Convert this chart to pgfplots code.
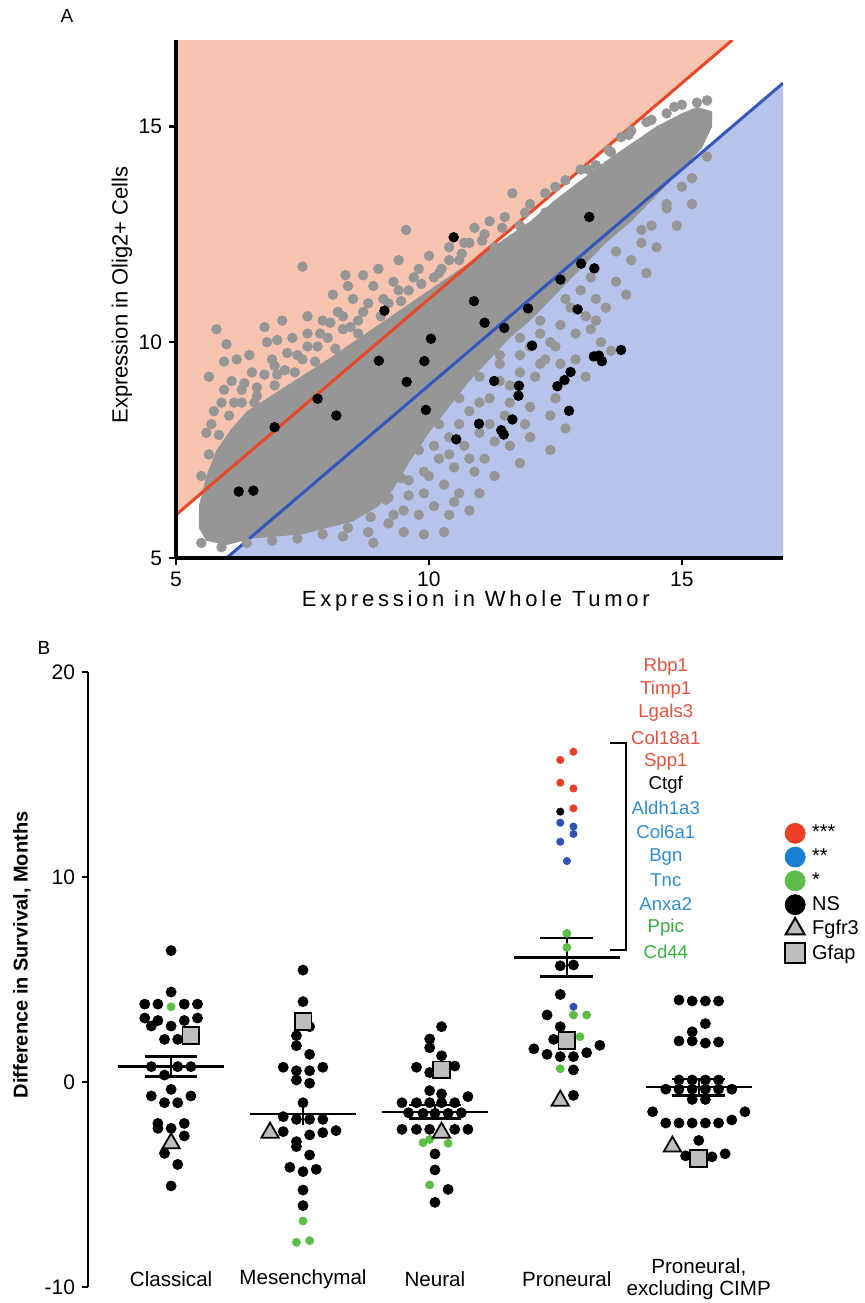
\documentclass[border=0pt]{standalone}
\usepackage{fontspec}
\setmainfont{Liberation Sans}
\newfontfamily\spaced[LetterSpace=17]{Liberation Sans}
\usepackage{pgfplots}
\pgfplotsset{compat=1.18}

\definecolor{hatchred}{RGB}{247,196,176}
\definecolor{hatchblue}{RGB}{184,195,235}
\definecolor{cloud}{RGB}{150,150,150}
\definecolor{linered}{RGB}{232,72,40}
\definecolor{lineblue}{RGB}{50,88,190}
\definecolor{dotred}{RGB}{238,62,38}
\definecolor{dotblue}{RGB}{48,82,182}
\definecolor{dotgreen}{RGB}{92,190,72}
\definecolor{legblue}{RGB}{24,128,212}
\definecolor{txtred}{RGB}{228,82,62}
\definecolor{txtblue}{RGB}{44,142,216}
\definecolor{txtgreen}{RGB}{52,178,60}
\definecolor{markgray}{RGB}{190,190,190}

\begin{document}
\begin{tikzpicture}[x=1pt,y=1pt]
\path[use as bounding box] (0,0) rectangle (432.5,-651.5);
\node[font=\fontsize{9.5}{11}\selectfont] at (33.5,-8) {A};
\node[font=\fontsize{9.5}{11}\selectfont] at (22,-324) {B};

% ---------- panel A ----------
\begin{axis}[
  at={(88pt,-279pt)}, anchor=south west, scale only axis,
  width=303.5pt, height=259pt,
  xmin=5, xmax=17, ymin=5, ymax=17,
  axis lines=left, axis line style={-, line width=1.6pt},
  axis on top,
  xtick={5,10,15}, ytick={5,10,15},
  tick align=outside, major tick length=3.5pt,
  tick style={line width=1.3pt, black},
  ticklabel style={font=\fontsize{10.5}{12}\selectfont},
  /pgf/number format/assume math mode=true,
  xlabel={\spaced Expression in Whole Tumor},
  ylabel={Expression in Olig2+ Cells},
  label style={font=\fontsize{11}{13}\selectfont},
  xlabel style={at={(axis description cs:0.494,-0.082)}, anchor=center},
  ylabel style={at={(axis description cs:-0.089,0.508)}, anchor=center},
]
% shaded regions
\addplot[fill=hatchred, draw=none] coordinates {(5,6) (16,17) (5,17)} -- cycle;
\addplot[fill=hatchblue, draw=none] coordinates {(6,5) (17,16) (17,5)} -- cycle;
% dense core of the cloud
\addplot[fill=cloud, draw=none] coordinates {
  (5.45,6.2) (5.45,5.7) (5.6,5.4) (6.0,5.3) (6.5,5.45) (7.0,5.5) (7.5,5.55)
  (8.0,5.7) (8.5,5.85) (9.0,6.2) (9.3,6.6) (9.6,7.2) (10.0,7.9) (10.4,8.5)
  (10.8,9.1) (11.2,9.6) (11.6,10.1) (12.0,10.5) (12.5,11.1) (13.0,11.7)
  (13.5,12.3) (14.0,12.8) (14.5,13.4) (15.0,14.0) (15.4,14.5) (15.6,15.0)
  (15.6,15.35) (15.3,15.45) (15.0,15.3) (14.5,15.0) (14.0,14.6) (13.5,14.2)
  (13.0,13.75) (12.5,13.3) (12.0,12.8) (11.5,12.4) (11.0,12.0) (10.5,11.6)
  (10.0,11.2) (9.5,10.8) (9.0,10.4) (8.5,10.0) (8.0,9.6) (7.6,9.3) (7.2,9.0)
  (6.8,8.7) (6.4,8.4) (6.1,8.0) (5.8,7.5) (5.6,6.9)
} -- cycle;
% scattered genes around the core
\addplot[only marks, mark=*, mark size=2.4pt, color=cloud] coordinates {
  (5.8,10.3) (5.95,9.55) (6.75,10.35) (7.5,11.75) (8.35,11.55) (8.7,11.55)
  (9.55,12.6) (10.9,12.65) (11.65,13.45) (13.8,14.75)
  (5.7,8.1) (5.9,8.6) (6.1,9.1) (6.3,8.9) (6.5,9.3) (6.6,8.95) (6.9,9.6)
  (7.0,9.25) (7.2,9.75) (7.3,10.1) (7.5,9.6) (7.6,10.2) (7.8,9.9) (7.9,10.5)
  (8.0,10.1) (8.2,10.7) (8.3,10.3) (8.5,11.0) (8.6,10.5) (8.8,10.9) (8.9,11.3)
  (9.1,11.0) (9.3,11.4) (9.4,11.9) (9.6,11.2) (9.8,11.7) (10.0,12.0) (10.2,11.6)
  (10.4,12.2) (10.6,11.9) (10.8,12.3) (11.1,12.5) (11.3,12.2) (11.5,12.9)
  (11.8,12.7) (12.0,13.2) (12.3,13.0) (12.5,13.6) (12.8,13.4) (13.0,14.0)
  (13.3,14.1) (13.6,14.4) (14.0,14.9) (14.3,15.1) (14.7,15.3) (15.0,15.5)
  (15.3,15.55) (6.2,9.6) (6.8,10.0) (7.1,10.5) (8.1,11.1) (9.0,11.7)
  (5.5,6.9) (5.65,7.4) (5.85,7.85) (6.05,8.3) (6.3,8.6) (6.6,8.75) (6.95,9.0)
  (7.35,9.3) (7.75,9.55) (8.15,9.85) (8.6,10.2) (9.05,10.6) (9.45,10.95)
  (9.85,11.35) (10.25,11.7) (10.65,12.05) (11.05,12.35) (11.45,12.65)
  (11.9,13.0) (12.3,13.45) (12.7,13.75) (13.15,14.0) (13.55,14.45) (13.95,14.8)
  (14.4,15.15) (14.85,15.45) (15.5,15.6)
  (5.6,7.9) (5.75,8.4) (5.95,8.9) (6.15,8.6) (6.35,9.05) (6.55,8.6) (6.75,9.25)
  (6.95,9.45) (7.15,9.35) (7.4,9.7) (7.6,9.9) (7.85,10.2) (8.05,10.45)
  (8.3,10.6) (8.45,10.35) (8.7,10.7) (9.2,10.9) (9.4,11.2) (9.7,11.5)
  (10.1,11.5) (10.4,11.9) (10.7,12.3) (11.2,12.8) (6.45,9.7) (7.0,10.05)
  (7.6,10.6) (8.4,11.3) (5.65,9.2) (6.0,9.95)
  (5.5,5.35) (5.9,5.25) (6.4,5.35) (6.9,5.4) (7.4,5.45) (7.9,5.55) (8.4,5.7)
  (8.85,5.95) (9.15,6.35) (9.45,6.85) (9.8,7.5) (10.2,8.1) (10.6,8.7)
  (11.0,9.2) (11.4,9.7) (11.8,10.1) (12.2,10.5) (12.7,11.0) (13.2,11.5)
  (13.7,12.1) (14.2,12.6) (14.7,13.2) (15.2,13.8) (15.5,14.3)
  (8.3,5.5) (8.8,5.6) (9.2,5.8) (9.5,6.1) (9.8,6.0) (10.1,6.2) (10.4,6.0)
  (9.9,6.5) (10.3,6.7) (10.6,6.5) (10.5,7.1) (10.9,7.0) (10.2,7.3) (10.7,7.6)
  (11.1,7.3) (11.0,7.9) (11.3,7.7) (11.5,8.3) (11.2,8.7) (11.6,8.6) (11.8,9.3)
  (12.1,9.2) (12.0,8.5) (12.3,9.6) (12.5,9.9) (12.2,10.2) (12.6,10.4)
  (12.9,10.2) (13.1,10.6) (13.3,11.0) (13.5,10.8) (13.7,11.4) (14.0,11.9)
  (14.2,12.3) (14.4,12.7) (14.7,13.1) (15.0,13.6) (13.4,10.0) (12.4,8.3)
  (11.6,7.6) (12.7,8.0) (13.1,9.2) (13.6,9.8) (10.8,8.4) (11.4,9.5) (9.6,6.8)
  (9.2,6.4) (12.0,7.8) (10.3,5.6) (8.9,5.35) (11.0,6.5) (12.4,7.5)
  (9.3,6.0) (9.6,6.45) (9.9,7.0) (10.1,7.6) (10.4,7.8) (10.4,7.4) (10.6,8.1)
  (10.8,7.3) (11.0,8.6) (11.2,8.1) (11.4,9.1) (11.6,9.0) (11.8,9.7) (12.0,9.9)
  (12.2,9.5) (12.4,10.0) (12.6,9.5) (12.8,10.8) (13.0,11.2) (13.2,10.3)
  (9.5,5.6) (9.9,5.55) (10.0,6.9) (10.5,6.3) (10.8,6.1) (11.3,6.9) (11.8,7.2)
  (11.9,8.1) (12.5,8.7) (12.9,9.6) (13.3,10.5) (13.9,11.1) (14.3,11.6)
  (14.5,12.2) (14.9,12.7) (15.2,13.2)
};
% fold-change thresholds
\addplot[linered, line width=1.5pt] coordinates {(5,6) (16,17)};
\addplot[lineblue, line width=1.5pt] coordinates {(6,5) (17,16)};
% highlighted genes
\addplot[only marks, mark=*, mark size=2.4pt, color=black] coordinates {
  (6.24,6.54) (6.53,6.56) (6.95,8.03) (7.80,8.69) (8.17,8.30) (9.12,10.73)
  (9.01,9.57) (9.56,9.08) (9.91,9.56) (10.04,10.08) (9.94,8.43) (10.49,12.43)
  (10.89,10.95) (11.10,10.45) (11.49,10.33) (10.54,7.75) (10.99,8.11)
  (11.29,9.10) (11.43,7.96) (11.48,7.86) (11.65,8.21) (11.78,8.99) (11.77,8.76)
  (11.96,10.78) (12.04,9.92) (12.60,11.45) (12.54,8.98) (12.68,9.12)
  (12.80,9.31) (12.77,8.41) (12.94,10.76) (13.01,11.82) (13.27,11.71)
  (13.17,12.90) (13.26,9.67) (13.36,9.69) (13.42,9.56) (13.80,9.82)
};
\end{axis}

% ---------- panel B ----------
\begin{axis}[
  at={(44pt,-643.5pt)}, anchor=south west, scale only axis,
  width=388.5pt, height=307.5pt,
  xmin=-0.63, xmax=5.26, ymin=-10, ymax=20,
  axis lines=left, axis line style={-},
  x axis line style={draw=none},
  y axis line style={line width=1.3pt},
  xtick={0,1,2,3,4},
  xticklabels={Classical, Mesenchymal, Neural, Proneural, {Proneural,\\excluding CIMP}},
  xtick style={draw=none},
  xticklabel style={anchor=center, yshift=7pt, align=center,
                    font=\fontsize{10.3}{10.8}\selectfont},
  ytick={-10,0,10,20},
  tick align=outside, major tick length=3pt,
  ytick style={line width=1.2pt, black},
  yticklabel style={font=\fontsize{10.5}{12}\selectfont},
  /pgf/number format/assume math mode=true,
  ylabel={Difference in Survival, Months},
  ylabel style={at={(axis description cs:-0.085,0.54)}, anchor=center,
                font=\bfseries\fontsize{10}{12}\selectfont},
  clip=false,
  legend style={draw=none, fill=none, at={(axis description cs:0.889,0.765)},
                anchor=north west, font=\fontsize{10}{12}\selectfont,
                row sep=-0.5pt, /tikz/every odd column/.append style={column sep=1.5pt}},
  legend cell align=left,
]
% not significant
\addplot[forget plot, only marks, mark=*, mark size=2.5pt, color=black] coordinates {
  (0,6.41) (0,4.39) (-0.2,3.8) (-0.1,3.8) (0.1,3.8) (0.2,3.8) (-0.2,3.12)
  (-0.1,3.0) (0.1,3.0) (0.2,3.12) (-0.15,2.73) (0,2.73) (-0.05,2.08) (0.05,2.08)
  (-0.15,0.75) (0.05,0.75) (0.15,0.75) (-0.05,0.34) (0,-0.36) (-0.15,-0.68)
  (0.15,-0.68) (-0.05,-1.01) (0.05,-1.01) (-0.1,-2.02) (0.1,-2.02) (-0.1,-2.26)
  (0,-2.26) (0.1,-2.63) (-0.05,-3.48) (0.05,-4.02) (0,-5.07)
  (1,5.46) (1,3.92) (1.05,2.70) (0.95,2.26) (0.95,1.77) (1.05,1.35) (0.85,0.72)
  (0.95,0.55) (1.05,0.55) (1.15,0.72) (0.95,0.10) (1.05,-0.06) (1,-1.01)
  (0.85,-1.69) (0.95,-1.82) (1.05,-1.82) (1.15,-1.82) (0.85,-2.42) (1.05,-2.58)
  (1.15,-2.47) (1.25,-2.37) (0.95,-2.91) (0.95,-3.15) (1.05,-3.56) (0.9,-4.16)
  (1,-4.37) (1.1,-4.26) (1,-5.27) (1,-6.03)
  (2.05,2.70) (1.96,2.10) (1.96,1.67) (2.05,1.28) (1.86,0.72) (1.96,0.46)
  (2.15,0.78) (1.96,-0.42) (2.05,-0.58) (2.25,-0.71) (1.75,-1.01) (1.86,-1.01)
  (1.96,-1.01) (2.05,-1.01) (2.15,-1.01) (1.8,-1.5) (1.91,-1.53) (2.0,-1.53)
  (2.1,-1.53) (2.2,-1.5) (1.75,-2.31) (1.86,-2.31) (1.96,-2.31) (2.15,-2.31)
  (2.25,-2.31) (2.0,-3.51) (2.0,-4.29) (2.1,-5.24) (2.0,-5.87)
  (2.95,5.67) (3.05,5.71) (2.95,4.27) (2.85,3.27) (2.95,2.70) (2.9,2.08)
  (2.75,1.62) (2.85,1.35) (2.95,1.24) (3.05,1.24) (3.15,1.43) (3.25,1.79)
  (3.05,0.59) (3.05,-0.65)
  (3.85,4.0) (3.95,3.95) (4.05,3.95) (4.15,3.95) (4.05,2.85) (3.95,2.45)
  (3.85,2.0) (3.95,2.0) (4.05,1.9) (4.15,1.95) (3.85,0.1) (3.95,0.1) (4.05,0.1)
  (4.15,0.1) (3.75,-0.35) (3.85,-0.35) (3.95,-0.35) (4.05,-0.35) (4.15,-0.35)
  (4.25,-0.35) (3.95,-0.85) (4.05,-0.85) (3.65,-1.45) (4.35,-1.45) (3.75,-2.0)
  (3.85,-2.0) (3.95,-2.0) (4.05,-2.0) (4.15,-2.0) (4.25,-1.85) (4,-2.85)
  (3.9,-3.6) (4.1,-3.65) (4.2,-3.5)
};
\addplot[forget plot, only marks, mark=*, mark size=1.8pt, color=black] coordinates {
  (2.95,13.19)
};
% *
\addplot[forget plot, only marks, mark=*, mark size=2pt, color=dotgreen] coordinates {
  (0,3.67) (1,-6.78) (0.95,-7.82) (1.05,-7.74) (1.91,-2.96) (1.96,-2.80)
  (2.1,-2.99) (1.96,-5.02) (3,7.25) (3,6.57) (3.05,3.27) (3.15,3.27) (3.1,2.21)
  (2.95,0.65)
};
% **
\addplot[forget plot, only marks, mark=*, mark size=1.8pt, color=dotblue] coordinates {
  (3.05,3.67) (2.95,12.65) (3.05,12.46) (3.05,12.10) (2.95,11.72) (3,10.78)
};
% ***
\addplot[forget plot, only marks, mark=*, mark size=1.8pt, color=dotred] coordinates {
  (2.95,15.71) (3.05,16.11) (2.95,14.60) (3.05,14.32) (3.05,13.35)
};
% Gfap
\addplot[forget plot, only marks, mark=square*, mark size=4.2pt, mark options={draw=black, line width=0.9pt, fill=markgray}] coordinates {
  (0.15,2.28) (1,2.94) (2.05,0.59) (3,2.02) (4,-3.72)
};
% Fgfr3
\addplot[forget plot, only marks, mark=triangle*, mark size=5pt, mark options={draw=black, line width=0.9pt, fill=markgray}] coordinates {
  (0,-2.99) (0.75,-2.47) (2.05,-2.47) (2.95,-0.91) (3.8,-3.15)
};
% means with error bars
\addplot[forget plot, black, line width=1.2pt, unbounded coords=jump] coordinates {
  (-0.4,0.75) (0.4,0.75) (0,nan) (0,0.26) (0,1.24) (0,nan)
  (-0.2,1.24) (0.2,1.24) (0,nan) (-0.2,0.26) (0.2,0.26) (0,nan)
  (0.6,-1.56) (1.4,-1.56) (0,nan) (1,-2.1) (1,-1.01) (0,nan)
  (1.6,-1.45) (2.4,-1.45) (0,nan) (2,-1.77) (2,-1.12) (0,nan)
  (1.8,-1.12) (2.2,-1.12) (0,nan) (1.8,-1.77) (2.2,-1.77) (0,nan)
  (2.6,6.08) (3.4,6.08) (0,nan) (3,5.14) (3,7.02) (0,nan)
  (2.8,7.02) (3.2,7.02) (0,nan) (2.8,5.14) (3.2,5.14) (0,nan)
  (3.6,-0.25) (4.4,-0.25) (0,nan) (4,-0.65) (4,0.15) (0,nan)
  (3.8,0.15) (4.2,0.15) (0,nan) (3.8,-0.65) (4.2,-0.65)
};
% bracket
\addplot[forget plot, black, line width=1.2pt] coordinates {
  (3.326,16.54) (3.447,16.54) (3.447,6.44) (3.326,6.44)
};
% gene names
\begin{scope}[every node/.style={font=\fontsize{9.3}{10}\selectfont, anchor=center}]
\node[text=txtred]   at (axis cs:3.75,20.26) {Rbp1};
\node[text=txtred]   at (axis cs:3.75,19.12) {Timp1};
\node[text=txtred]   at (axis cs:3.75,18.0)  {Lgals3};
\node[text=txtred]   at (axis cs:3.75,16.78) {Col18a1};
\node[text=txtred]   at (axis cs:3.75,15.61) {Spp1};
\node[text=black]    at (axis cs:3.75,14.49) {Ctgf};
\node[text=txtblue]  at (axis cs:3.75,13.37) {Aldh1a3};
\node[text=txtblue]  at (axis cs:3.75,12.2)  {Col6a1};
\node[text=txtblue]  at (axis cs:3.75,10.98) {Bgn};
\node[text=txtblue]  at (axis cs:3.75,9.85)  {Tnc};
\node[text=txtblue]  at (axis cs:3.75,8.68)  {Anxa2};
\node[text=txtgreen] at (axis cs:3.75,7.51)  {Ppic};
\node[text=txtgreen] at (axis cs:3.75,6.34)  {Cd44};
\end{scope}
% legend
\addlegendimage{only marks, mark=*, mark size=5pt, color=dotred}
\addlegendentry{***}
\addlegendimage{only marks, mark=*, mark size=5pt, color=legblue}
\addlegendentry{**}
\addlegendimage{only marks, mark=*, mark size=5pt, color=dotgreen}
\addlegendentry{*}
\addlegendimage{only marks, mark=*, mark size=5pt, color=black}
\addlegendentry{NS}
\addlegendimage{only marks, mark=triangle*, mark size=5.5pt, mark options={draw=black, line width=1pt, fill=markgray}}
\addlegendentry{Fgfr3}
\addlegendimage{only marks, mark=square*, mark size=5pt, mark options={draw=black, line width=1pt, fill=markgray}}
\addlegendentry{Gfap}
\end{axis}
\end{tikzpicture}
\end{document}
